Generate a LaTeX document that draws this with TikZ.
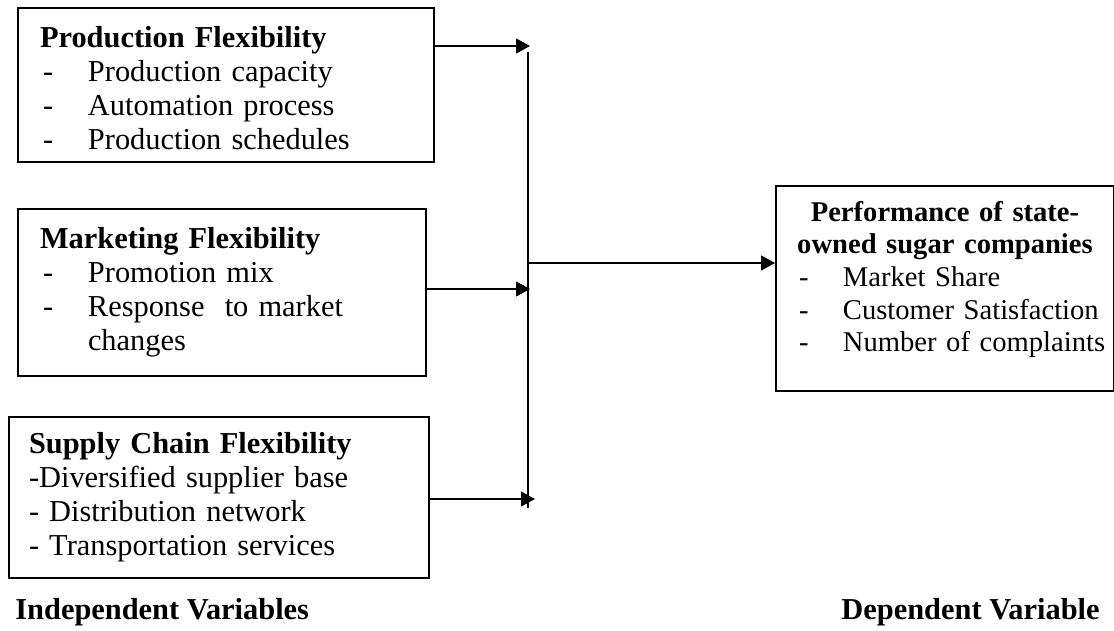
\documentclass[tikz,border=0pt]{standalone}
\usepackage{fontspec}
\setmainfont{Liberation Serif}
\usetikzlibrary{positioning, arrows.meta}

\newcommand{\itm}[1]{\makebox[24pt][l]{\hspace{1.5pt}-}#1}
\newcommand{\ritm}[1]{\makebox[147pt][l]{\makebox[22.5pt][l]{\hspace{0.5pt}-}#1}}
\newcommand{\rhead}[1]{\makebox[147pt][c]{\bfseries #1}}

\begin{document}
\begin{tikzpicture}[
  x=0.5pt, y=-0.5pt,
  varbox/.style={rectangle, draw, line width=1pt, anchor=north west, inner xsep=11pt, inner ysep=0pt, align=left, font=\fontsize{15.2}{17}\selectfont},
  link/.style={-{Triangle[length=7pt, width=7.5pt]}, line width=0.6pt},
  bus/.style={line width=0.6pt},
  heading/.style={inner sep=0pt, font=\fontsize{15.2}{18}\selectfont\bfseries}
]
\useasboundingbox (0,0) rectangle (1114,631);

% Nodes
\node[varbox, text width=186pt, minimum height=77pt] (prod) at (17,7)
  {\rule{0pt}{14pt}\textbf{Production Flexibility}\\\itm{Production capacity}\\\itm{Automation process}\\\itm{Production schedules}};
\node[varbox, text width=182pt, minimum height=83.5pt] (mkt) at (17,208)
  {\textbf{Marketing Flexibility}\\\itm{Promotion mix}\\\itm{Response\ \ to market}\\\hspace*{24pt}changes};
\node[varbox, inner xsep=10pt, text width=190pt, minimum height=80.5pt] (sc) at (8,416)
  {\textbf{Supply Chain Flexibility}\\-Diversified supplier base\\- Distribution network\\- Transportation services};
\node[varbox, align=center, text width=147pt, minimum height=102.5pt, font=\fontsize{14.3}{16.3}\selectfont] (perf) at (775,185)
  {\rhead{Performance of state-}\\\rhead{owned sugar companies}\\
   \ritm{Market Share}\\\ritm{Customer Satisfaction}\\\ritm{Number of complaints}\rule[-12pt]{0pt}{12pt}};

\node[heading, anchor=west] (indep) at (15,612) {Independent Variables};
\node[heading, anchor=east] (dep) at (1100,612) {Dependent Variable};

% Connections
\coordinate (busTop) at (528,52);
\coordinate (busBot) at (528,508);
\coordinate (in1) at (530,46);
\coordinate (in2) at (530,289);
\coordinate (in3) at (535,499);
\coordinate (out) at (528,263);

\draw[bus] (busTop) -- (busBot);
\draw[link] (prod.east |- in1) -- (in1);
\draw[link] (mkt.east |- in2) -- (in2);
\draw[link] (sc.east |- in3) -- (in3);
\draw[link] (out) -- (perf.west |- out);

\end{tikzpicture}
\end{document}
